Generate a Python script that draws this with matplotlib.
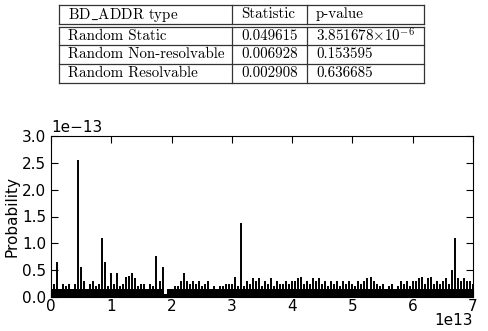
"""Table of KS statistics above a probability plot of BD_ADDR values"""
import numpy as np
import matplotlib
matplotlib.use("Agg")
from matplotlib import pyplot as plt

# table contents
col_labels = [r"BD$\_$ADDR type", "Statistic", "p-value"]
addr_types = ["Random Static", "Random Non-resolvable", "Random Resolvable"]
statistics = ["0.049615", "0.006928", "0.002908"]
p_values = [r"3.851678$\times10^{-6}$", "0.153595", "0.636685"]

# probability curve, sampled every 0.05e13 from 0 to 7e13 (values in 1e-13)
x_step = 0.05
prob = [0.80, 0.25, 0.65, 0.15, 0.25, 0.20, 0.25, 0.15, 0.25, 2.55,
        0.55, 0.30, 0.15, 0.25, 0.30, 0.20, 0.25, 1.10, 0.65, 0.20,
        0.45, 0.25, 0.45, 0.20, 0.25, 0.38, 0.40, 0.45, 0.35, 0.20,
        0.25, 0.25, 0.15, 0.25, 0.20, 0.77, 0.30, 0.55, 0.05, 0.15,
        0.15, 0.20, 0.20, 0.30, 0.45, 0.30, 0.25, 0.30, 0.25, 0.30,
        0.20, 0.25, 0.30, 0.15, 0.20, 0.15, 0.20, 0.20, 0.25, 0.25,
        0.25, 0.38, 0.20, 1.37, 0.20, 0.30, 0.25, 0.35, 0.30, 0.35,
        0.20, 0.30, 0.25, 0.35, 0.20, 0.30, 0.25, 0.25, 0.30, 0.25,
        0.30, 0.30, 0.35, 0.38, 0.25, 0.30, 0.25, 0.35, 0.30, 0.35,
        0.25, 0.30, 0.20, 0.30, 0.25, 0.30, 0.20, 0.30, 0.25, 0.30,
        0.25, 0.20, 0.30, 0.25, 0.30, 0.35, 0.38, 0.30, 0.25, 0.20,
        0.25, 0.15, 0.20, 0.25, 0.15, 0.20, 0.30, 0.25, 0.30, 0.20,
        0.30, 0.30, 0.35, 0.38, 0.25, 0.35, 0.38, 0.25, 0.30, 0.25,
        0.30, 0.35, 0.25, 0.50, 1.10, 0.35, 0.30, 0.35, 0.30, 0.30,
        0.25]

W, H = 489, 331
fig = plt.figure(figsize=(W / 100, H / 100), dpi=100)
plt.rcParams["mathtext.fontset"] = "cm"

# ---- table, drawn in pixel coordinates ----
tx0, tx1, ty0, ty1 = 59, 424, 5, 83
tab = fig.add_axes([tx0 / W, 1 - ty1 / H, (tx1 - tx0) / W, (ty1 - ty0) / H])
tab.set_xlim(tx0, tx1)
tab.set_ylim(ty1, ty0)
tab.axis("off")

col_edges = [59, 232, 307, 424]
row_edges = [5, 24, 27, 45, 64, 83]
lc = "#333333"
for yy in row_edges:
    tab.plot([tx0, tx1], [yy, yy], color=lc, lw=0.9, clip_on=False)
for xx in col_edges:
    tab.plot([xx, xx], [ty0, 24], color=lc, lw=0.9, clip_on=False)
    tab.plot([xx, xx], [27, ty1], color=lc, lw=0.9, clip_on=False)

tfont = dict(family=["cmr10", "DejaVu Serif"], fontsize=10.8, va="center", ha="left")
for c, lab in enumerate(col_labels):
    tab.text(col_edges[c] + 9, 14.5, lab, **tfont)
rows = list(zip(addr_types, statistics, p_values))
centers = [36, 54.5, 73.5]
for r, row in enumerate(rows):
    for c, val in enumerate(row):
        tab.text(col_edges[c] + 9, centers[r], val, **tfont)

# ---- probability plot ----
ax = fig.add_axes([51 / W, 1 - 297 / H, (473 - 51) / W, (297 - 136) / H])
xs = np.arange(len(prob)) * x_step * 1e13
ys = np.array(prob) * 1e-13
ax.vlines(xs, 0, ys, color="black", lw=1.4)
ax.fill_between(xs, 0, np.minimum(ys, 0.14e-13), step="mid", color="black", lw=0)

ax.set_xlim(0, 7e13)
ax.set_ylim(0, 3e-13)
ax.set_xticks(np.arange(0, 8) * 1e13)
ax.set_yticks(np.arange(0, 3.01, 0.5) * 1e-13)
ax.set_ylabel("Probability", fontsize=11, labelpad=2)
ax.tick_params(direction="in", top=True, right=True, length=5, labelsize=11)
ax.tick_params(axis="x", pad=1.5)
ax.yaxis.get_offset_text().set_fontsize(11)
ax.xaxis.get_offset_text().set_fontsize(11)
ax.xaxis.OFFSETTEXTPAD = -1  # pull "1e13" up so it stays inside the figure

fig.savefig("out.png", dpi=100)
